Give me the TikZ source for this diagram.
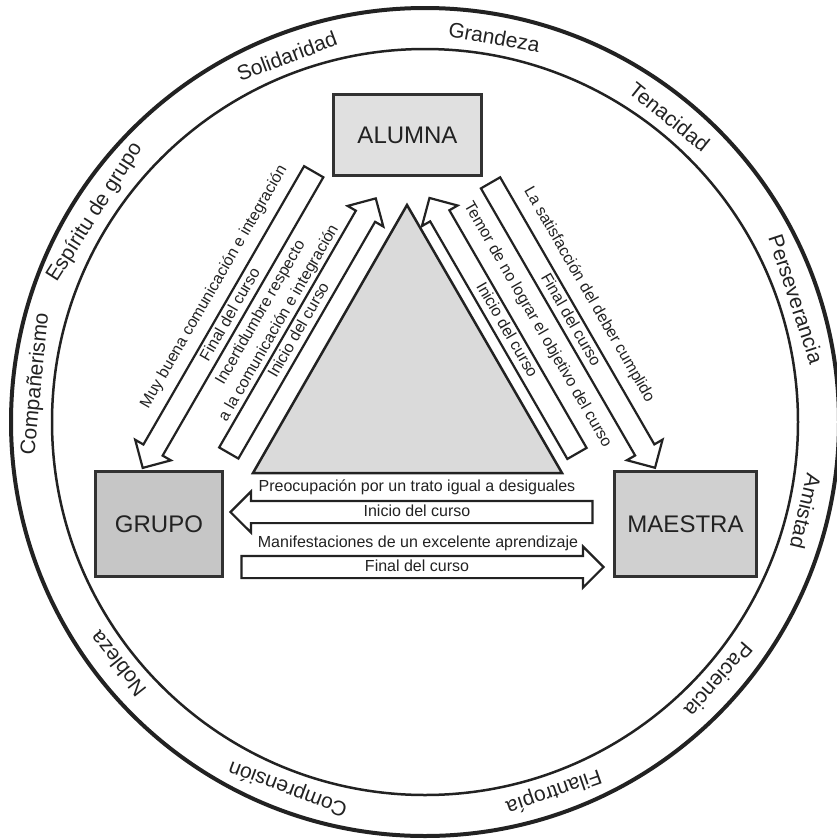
\documentclass[tikz,border=0pt]{standalone}
\usepackage{fontspec}
\setmainfont{Liberation Sans}
\usetikzlibrary{shapes.arrows}
\definecolor{ink}{RGB}{34,34,34}
\definecolor{boxline}{RGB}{50,50,50}
\definecolor{alumnafill}{RGB}{224,224,224}
\definecolor{grupofill}{RGB}{198,198,198}
\definecolor{maestrafill}{RGB}{208,208,208}
\definecolor{trifill}{RGB}{218,218,218}
\begin{document}
\begin{tikzpicture}[x=1pt, y=-1pt,
    actor/.style={draw=boxline, line width=3pt, inner sep=0pt, font=\fontsize{24}{28}\selectfont, text=ink},
    flow/.style={single arrow, draw=ink, fill=white, line width=2.2pt,
      single arrow head extend=9.5pt, single arrow tip angle=90, single arrow head indent=0pt,
      inner xsep=4pt, inner ysep=2.5pt, text height=11.5pt, text depth=3.5pt,
      font=\fontsize{16}{19}\selectfont, text=ink},
    flowlabel/.style={inner sep=0pt, align=center, font=\fontsize{16}{21}\selectfont, text=ink},
    value/.style={inner sep=0pt, font=\fontsize{21}{25}\selectfont, text=ink}]
\useasboundingbox (0,0) rectangle (837,839);

% rings of values
\draw[ink, line width=4pt] (425,422) circle[radius=414pt];
\draw[ink, line width=2.5pt] (425,422) circle[radius=373pt];
\foreach \ang/\word [count=\i] in {79.8/Grandeza, 110.7/Solidaridad, 147.6/{Espíritu de grupo},
    174.4/Compañerismo, 218.2/Nobleza, 249.5/Comprensión, 289.2/Filantropía,
    318.7/Paciencia, 346.8/Amistad, 18.3/Perseverancia, 51.3/Tenacidad}
  \node[value, rotate=\ang-90] (value\i) at ({425+391*cos(\ang)}, {422-391*sin(\ang)}) {\word};

% central triangle
\draw[ink, line width=2.5pt, fill=trifill] (253,473) -- (562,473) -- (407,205) -- cycle;

% actors
\node[actor, fill=alumnafill, minimum width=148pt, minimum height=81pt] (alumna) at (407.5,135) {ALUMNA};
\node[actor, fill=grupofill, minimum width=127pt, minimum height=105pt] (grupo) at (159,524) {GRUPO};
\node[actor, fill=maestrafill, minimum width=142pt, minimum height=105pt] (maestra) at (685.5,524) {MAESTRA};

% alumna - grupo
\node[flow, rotate=60, shape border rotate=180, minimum height=342pt] (finalAG) at (231,315) {Final del curso};
\node[flow, rotate=60, minimum height=294pt] (inicioGA) at (299.5,330.5) {Inicio del curso};
\node[flowlabel, rotate=60] (muybuena) at (214,287) {Muy buena comunicación e integración};
\node[flowlabel, rotate=60] (incertidumbre) at (270,318) {Incertidumbre respecto\\a la comunicación e integración};

% alumna - maestra
\node[flow, rotate=-60, minimum height=329pt] (finalAM) at (570,320.5) {Final del curso};
\node[flow, rotate=-60, shape border rotate=180, minimum height=295pt] (inicioMA) at (506,330.5) {Inicio del curso};
\node[flowlabel, rotate=-60] (satisfaccion) at (589,295) {La satisfacción del deber cumplido};
\node[flowlabel, rotate=-60] (temor) at (537.5,325) {Temor de no lograr el objetivo del curso};

% grupo - maestra
\node[flow, shape border rotate=180, minimum height=362pt] (inicioMG) at (417,512) {Inicio del curso};
\node[flow, minimum height=362pt] (finalGM) at (417,567) {Final del curso};
\node[flowlabel] (preocupacion) at (417,487) {Preocupación por un trato igual a desiguales};
\node[flowlabel] (manifestaciones) at (418,543) {Manifestaciones de un excelente aprendizaje};

\end{tikzpicture}
\end{document}
